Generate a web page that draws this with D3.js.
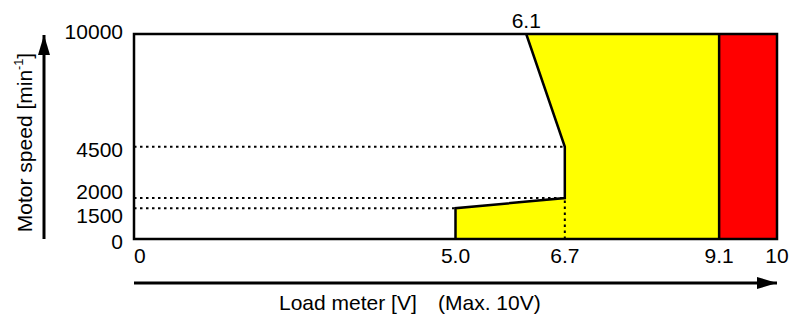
<!DOCTYPE html>
<html>
<head>
<meta charset="utf-8">
<script src="https://cdn.jsdelivr.net/npm/d3@7"></script>
<style>
  body { margin: 0; background: #fff; }
  text { font-family: 'Liberation Sans', Arial, sans-serif; fill: #000; }
</style>
</head>
<body>
<div id="chart"></div>
<script>
// values
const speedTicks = [0, 1500, 2000, 4500, 10000]
const voltTicks = [0, 5.0, 6.7, 9.1, 10]
// boundary of the yellow area (load meter voltage vs motor speed)
const limitVolt = [5.0, 5.0, 6.7, 6.7, 6.1]
const limitSpeed = [0, 1500, 2000, 4500, 10000]
const redFrom = 9.1
const voltMax = 10
const speedMax = 10000

const width = 801
const height = 321
const margin = { top: 34, right: 24, bottom: 82, left: 134 }

const svg = d3
  .select('#chart')
  .append('svg')
  .attr('width', width)
  .attr('height', height)

const defs = svg.append('defs')

const xScale = d3
  .scaleLinear()
  .domain([0, voltMax])
  .range([margin.left, width - margin.right])

const yScale = d3
  .scaleLinear()
  .domain([0, speedMax])
  .range([height - margin.bottom, margin.top])

const limit = limitVolt.map((v, i) => [v, limitSpeed[i]])
const line = d3.line().x((d) => xScale(d[0])).y((d) => yScale(d[1]))

// yellow region: boundary line -> 9.1 at top -> 9.1 at bottom
const yellowPts = limit.concat([[redFrom, speedMax], [redFrom, 0]])
svg
  .append('path')
  .attr('d', line(yellowPts) + 'Z')
  .attr('fill', '#ffff00')

// red region
svg
  .append('rect')
  .attr('x', xScale(redFrom))
  .attr('y', yScale(speedMax))
  .attr('width', xScale(voltMax) - xScale(redFrom))
  .attr('height', yScale(0) - yScale(speedMax))
  .attr('fill', '#ff0000')

// dotted guide lines
const guides = svg
  .append('g')
  .attr('stroke', '#000')
  .attr('stroke-width', 2)
  .attr('stroke-dasharray', '2.5,3.5')
limit.slice(1, 4).forEach((d) => {
  guides
    .append('line')
    .attr('x1', xScale(0))
    .attr('x2', xScale(d[0]))
    .attr('y1', yScale(d[1]))
    .attr('y2', yScale(d[1]))
})
guides
  .append('line')
  .attr('x1', xScale(limit[2][0]))
  .attr('x2', xScale(limit[2][0]))
  .attr('y1', yScale(0))
  .attr('y2', yScale(limit[2][1]))

// boundary line
svg
  .append('path')
  .attr('d', line(limit))
  .attr('fill', 'none')
  .attr('stroke', '#000')
  .attr('stroke-width', 2.5)

// 9.1 divider
svg
  .append('line')
  .attr('x1', xScale(redFrom))
  .attr('x2', xScale(redFrom))
  .attr('y1', yScale(0))
  .attr('y2', yScale(speedMax))
  .attr('stroke', '#000')
  .attr('stroke-width', 2.5)

// frame
svg
  .append('rect')
  .attr('x', xScale(0))
  .attr('y', yScale(speedMax))
  .attr('width', xScale(voltMax) - xScale(0))
  .attr('height', yScale(0) - yScale(speedMax))
  .attr('fill', 'none')
  .attr('stroke', '#000')
  .attr('stroke-width', 2.5)

const fontSize = 21

// y tick labels: baseline offset below the tick (2000 / 1500 pushed apart)
const baseOffset = { 0: 10, 1500: 15, 2000: 1, 4500: 10, 10000: 5 }
svg
  .append('g')
  .selectAll('text')
  .data(speedTicks)
  .join('text')
  .attr('x', xScale(0) - 11)
  .attr('y', (d) => yScale(d) + baseOffset[d])
  .attr('text-anchor', 'end')
  .attr('font-size', fontSize)
  .text((d) => d)

// x tick labels
svg
  .append('g')
  .selectAll('text')
  .data(voltTicks)
  .join('text')
  .attr('x', (d) => xScale(d))
  .attr('y', yScale(0) + 24)
  .attr('text-anchor', (d, i) => (i === 0 ? 'start' : 'middle'))
  .attr('font-size', fontSize)
  .text((d, i) => (i === 0 || d === voltMax ? d : d.toFixed(1)))

// label of boundary at the top
svg
  .append('text')
  .attr('x', xScale(limit[limit.length - 1][0]))
  .attr('y', yScale(speedMax) - 6)
  .attr('text-anchor', 'middle')
  .attr('font-size', fontSize)
  .text(limit[limit.length - 1][0].toFixed(1))

// arrow heads
defs
  .append('marker')
  .attr('id', 'arrow')
  .attr('viewBox', '0 0 20 12')
  .attr('refX', 20)
  .attr('refY', 6)
  .attr('markerWidth', 20)
  .attr('markerHeight', 12)
  .attr('markerUnits', 'userSpaceOnUse')
  .attr('orient', 'auto')
  .append('path')
  .attr('d', 'M0,0L20,6L0,12Z')
  .attr('fill', '#000')

// y arrow
svg
  .append('line')
  .attr('x1', 44)
  .attr('x2', 44)
  .attr('y1', yScale(0))
  .attr('y2', yScale(speedMax) + 1)
  .attr('stroke', '#000')
  .attr('stroke-width', 3)
  .attr('marker-end', 'url(#arrow)')

// x arrow
svg
  .append('line')
  .attr('x1', xScale(0))
  .attr('x2', xScale(voltMax))
  .attr('y1', 283)
  .attr('y2', 283)
  .attr('stroke', '#000')
  .attr('stroke-width', 3)
  .attr('marker-end', 'url(#arrow)')

// axis titles
const yTitle = svg
  .append('text')
  .attr('transform', `translate(32, ${(yScale(0) + yScale(speedMax)) / 2 + 6}) rotate(-90)`)
  .attr('text-anchor', 'middle')
  .attr('font-size', fontSize)
yTitle.append('tspan').text('Motor speed [min')
yTitle.append('tspan').attr('font-size', fontSize * 0.6).attr('dy', '-0.75em').text('-1')
yTitle.append('tspan').attr('dy', '0.45em').text(']')

svg
  .append('text')
  .attr('x', 279)
  .attr('y', 310)
  .attr('font-size', fontSize)
  .text('Load meter [V]')

svg
  .append('text')
  .attr('x', 438)
  .attr('y', 310)
  .attr('font-size', fontSize)
  .text('(Max. 10V)')
</script>
</body>
</html>
